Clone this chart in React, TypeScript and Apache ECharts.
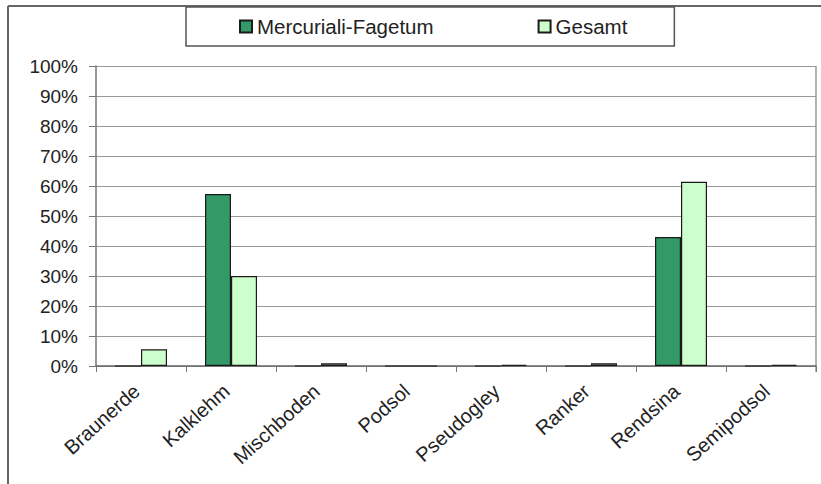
import React, { useEffect, useRef } from "react";
import * as echarts from "echarts";

const categories = ["Braunerde", "Kalklehm", "Mischboden", "Podsol", "Pseudogley", "Ranker", "Rendsina", "Semipodsol"];
const mercurialiFagetum = [0, 57.3, 0, 0, 0, 0, 43, 0];
const gesamt = [5.6, 30, 0.9, 0, 0.4, 0.9, 61.4, 0.4];
const yTicks = { min: 0, max: 100, interval: 10 };

export default function App() {
  const ref = useRef<HTMLDivElement>(null);
  useEffect(() => {
    const chart = echarts.init(ref.current!, null, { renderer: "svg" });
    const font = "'Liberation Sans', Arial, sans-serif";
    chart.setOption({
      animation: false,
      backgroundColor: "#ffffff",
      textStyle: { fontFamily: font },
      graphic: [
        { type: "line", shape: { x1: 8, y1: 6, x2: 8, y2: 484 }, style: { stroke: "#666", lineWidth: 2 } },
        { type: "line", shape: { x1: 8, y1: 6, x2: 821, y2: 6 }, style: { stroke: "#666", lineWidth: 2 } },
        { type: "line", shape: { x1: 816, y1: 66, x2: 816, y2: 372 }, style: { stroke: "#999", lineWidth: 1.5 } },
      ],
      legend: {
        left: 186,
        top: 7,
        padding: [9, 47, 9, 53],
        itemGap: 104,
        itemWidth: 12,
        itemHeight: 12,
        icon: "rect",
        borderColor: "#555",
        borderWidth: 1.5,
        textStyle: { fontSize: 20.5, color: "#222", fontFamily: font },
        data: ["Mercuriali-Fagetum", "Gesamt"],
      },
      grid: { left: 96, right: 5, top: 66, bottom: 118, containLabel: false },
      xAxis: {
        type: "category",
        data: categories,
        axisLine: { lineStyle: { color: "#666", width: 1.5 } },
        axisTick: { show: true, length: 6, alignWithLabel: false, lineStyle: { color: "#777" } },
        axisLabel: { rotate: 42, fontSize: 20, color: "#222", margin: 18, interval: 0, padding: [0, 6, 0, 0], fontFamily: font },
      },
      yAxis: {
        type: "value",
        min: yTicks.min,
        max: yTicks.max,
        interval: yTicks.interval,
        axisLine: { show: true, lineStyle: { color: "#777", width: 1.5 } },
        axisTick: { show: true, length: 7, inside: false, lineStyle: { color: "#777" } },
        axisLabel: { formatter: "{value}%", fontSize: 19, color: "#222", margin: 18, fontFamily: font },
        splitLine: { show: true, lineStyle: { color: "#999", width: 1.2 } },
      },
      series: [
        {
          name: "Mercuriali-Fagetum",
          type: "bar",
          data: mercurialiFagetum,
          barWidth: 26,
          barGap: "0%",
          itemStyle: { color: "#339966", borderColor: "#1a1a1a", borderWidth: 1.2 },
        },
        {
          name: "Gesamt",
          type: "bar",
          data: gesamt,
          barWidth: 26,
          barGap: "0%",
          itemStyle: { color: "#ccffcc", borderColor: "#1a1a1a", borderWidth: 1.2 },
        },
      ],
    });
    return () => chart.dispose();
  }, []);
  return <div ref={ref} style={{ width: 821, height: 484, position: "absolute", left: 0, top: 0 }} />;
}
